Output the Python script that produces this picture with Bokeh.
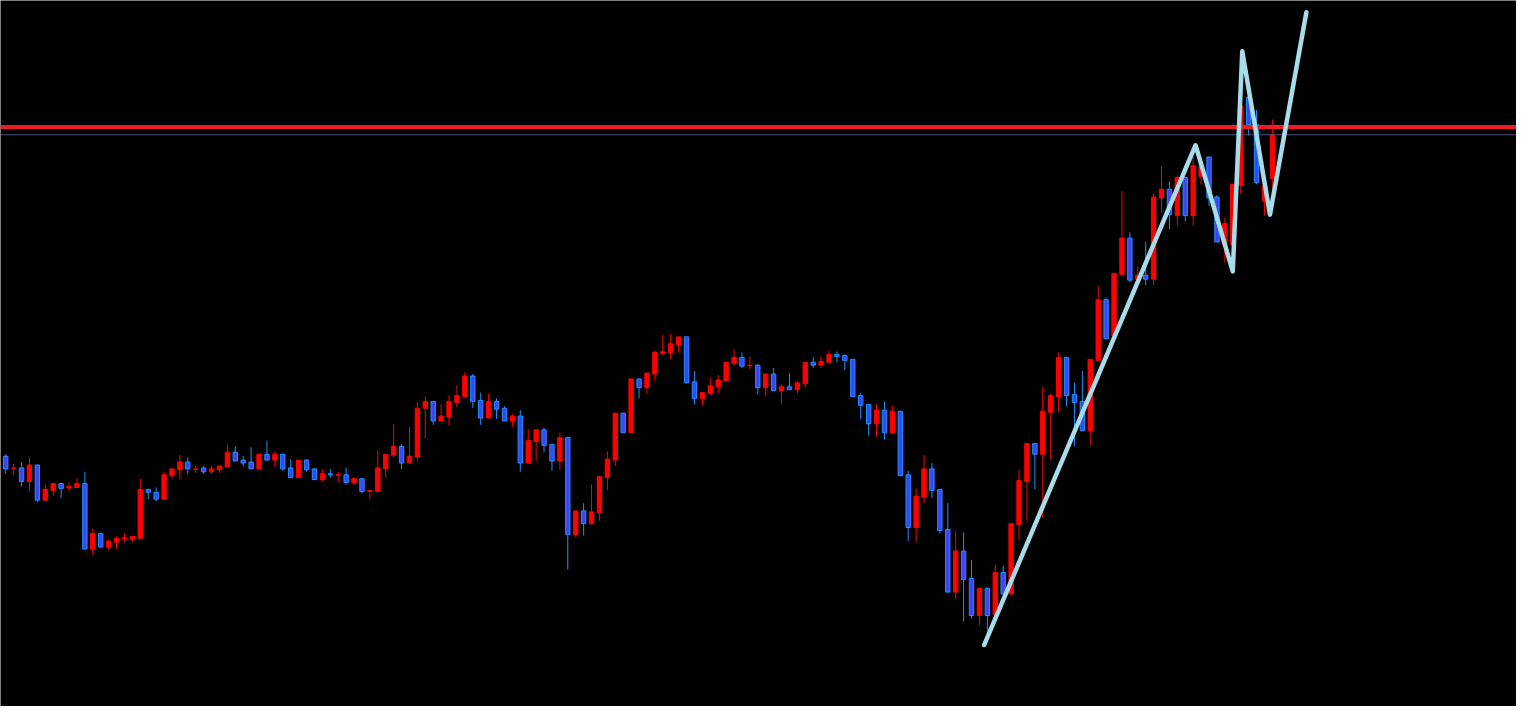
from bokeh.plotting import figure
from bokeh.models import ColumnDataSource, Span, Range1d
from bokeh.embed import file_html
from bokeh.resources import INLINE

# ---- data (price units) ----
opens = [334, 321.5, 322, 308, 325, 289, 299, 306, 301.5, 302,
         306, 239, 255, 241, 246, 249.5, 249, 250, 300, 297,
         290, 314, 320, 328, 320.5, 322, 318, 320, 323, 338,
         330, 328, 321, 336, 330, 336, 322, 312, 330, 321,
         310, 316, 314.5, 315, 307, 311, 298, 298, 321, 335,
         344, 327, 333, 383, 390, 370, 374, 389, 395, 416,
         391, 373, 390, 383, 370, 375, 327, 349, 361, 346,
         329, 353, 254, 278, 265, 276, 312, 330, 378, 358,
         413, 404, 418, 439, 440, 448, 456, 410, 393, 398,
         405, 411, 429, 435, 426.5, 427, 404, 418, 401, 405,
         402, 408, 430, 427, 430, 438, 437, 433, 396, 387,
         367, 381, 358, 380, 315, 261, 292, 321, 300, 259,
         195, 237, 209, 171, 199, 172, 215, 193, 264, 308,
         347, 336, 379, 395, 435, 397, 390, 360, 432, 494,
         457, 520, 557, 515, 519, 515, 598, 607, 580, 619,
         580, 620, 640, 599, 550, 550, 611, 701, 673, 595,
         618]
closes = [321, 322, 308, 325, 289, 300, 306, 301, 303, 306,
          239, 255, 241, 247, 250, 250.5, 252, 300, 297, 290,
          315, 321, 328, 321, 321, 318, 321, 324, 338, 329,
          327, 321, 336, 330, 336, 321, 312, 330, 320, 310,
          316, 315, 315, 307, 311, 298, 299, 322, 336, 344,
          327, 334, 383, 390, 370, 375, 390, 396, 416, 390,
          373, 390, 382, 370, 375, 327, 350, 361, 345, 329,
          353, 254, 278, 265, 277, 313, 331, 378, 358, 413,
          404, 419, 440, 441, 449, 456, 409, 393, 399, 406,
          412, 430, 435, 426, 427, 404, 418, 401, 405, 402,
          409, 430, 427, 431, 438, 436, 432, 395, 386, 367,
          381, 358, 380, 314, 261, 293, 321, 299, 258, 195,
          237, 208, 171, 199, 171, 215, 193, 265, 309, 347,
          336, 380, 396, 435, 396, 389, 360, 433, 494, 454,
          521, 557, 514, 519, 515, 599, 607, 581, 619, 580,
          631, 630, 598, 553, 572, 612, 692, 673, 614, 610,
          663]
highs = [336, 326, 328, 333, 325, 305, 307, 306, 307, 312,
         318, 260, 255, 249, 252, 255, 252, 311, 300, 302,
         318, 321, 335, 333, 324, 324, 324, 324, 346, 344,
         334, 343, 336, 350, 339, 336, 331, 330, 331, 321,
         321, 321, 318, 322, 311, 311, 299, 340, 336, 367,
         346, 364, 389, 395, 390, 387, 396, 407, 420, 418,
         399, 398, 393, 385, 377, 381, 362, 361, 363, 346,
         358, 353, 278, 286, 305, 314, 339, 378, 378, 413,
         413, 419, 442, 458, 459, 456, 456, 421, 399, 414,
         417, 430, 443, 440, 436, 428, 418, 424, 407, 419,
         411, 430, 435, 436, 442, 441, 438, 433, 399, 387,
         387, 390, 386, 380, 319, 301, 335, 327, 300, 286,
         257, 256, 228, 199, 199, 223, 222, 265, 320, 347,
         347, 405, 398, 440, 435, 409, 421, 433, 508, 496,
         521, 605, 563, 528, 553, 603, 631, 615, 621, 619,
         640, 640, 640, 601, 578, 612, 700, 703, 688, 618,
         678]
lows = [316, 315, 303, 298, 287, 289, 293, 291, 298, 301.5,
        239, 233, 241, 238, 239, 246, 246, 250, 290, 288,
        289, 311, 310, 316, 317, 316, 316, 317, 323, 329,
        324, 321, 320, 330, 323, 319, 312, 312, 318, 310,
        308, 312, 307, 305, 304, 296, 290, 298, 312, 333,
        321, 327, 330, 352, 366, 370, 365, 384, 393, 383,
        366, 373, 372, 370, 364, 318, 327, 329, 338, 319,
        320, 218, 251, 253, 264, 268, 299, 324, 358, 358,
        393, 398, 411, 437, 433, 440, 409, 387, 386, 396,
        398, 411, 426, 424, 423, 397, 395, 401, 387, 402,
        398, 404, 424, 424, 429, 430, 422, 395, 372, 355,
        354, 351, 357, 314, 247, 246, 286, 291, 255, 195,
        188, 165, 168, 161, 155, 172, 193, 193, 248, 268,
        300, 271, 330, 379, 385, 344, 360, 345, 432, 454,
        455, 518, 512, 513, 509, 509, 583, 566, 570, 574,
        570, 612, 590, 553, 532, 545, 602, 662, 612, 580,
        607]

# zigzag (wave) line: bar index, price
zz_x = [123.6, 150.3, 155.0, 156.2, 159.7, 164.3]
zz_y = [141, 652, 523, 748, 581, 788]

resistance_level = 670.7
bid_level = 662.7

# ---- build ----
n = len(opens)
idx = list(range(n))
up_i = [i for i in idx if closes[i] >= opens[i]]
dn_i = [i for i in idx if closes[i] < opens[i]]

up_src = ColumnDataSource(dict(
    x=up_i,
    top=[closes[i] for i in up_i], bottom=[opens[i] for i in up_i],
    high=[highs[i] for i in up_i], low=[lows[i] for i in up_i]))
dn_src = ColumnDataSource(dict(
    x=dn_i,
    top=[opens[i] for i in dn_i], bottom=[closes[i] for i in dn_i],
    high=[highs[i] for i in dn_i], low=[lows[i] for i in dn_i]))

p = figure(width=1516, height=706,
           x_range=Range1d(-0.66, 190.84), y_range=Range1d(78, 800),
           x_axis_type=None, y_axis_type=None,
           output_backend="svg", toolbar_location=None,
           background_fill_color="#000000", border_fill_color="#000000",
           min_border=0, outline_line_color=None)
p.grid.visible = False

RED = "#ff0000"
BLUE_FILL = "#3c46f8"
BLUE_LINE = "#1e90ff"

p.segment(x0="x", y0="high", x1="x", y1="low", source=up_src, line_color=RED, line_width=1)
p.segment(x0="x", y0="high", x1="x", y1="low", source=dn_src, line_color=BLUE_LINE, line_width=1)
p.vbar(x="x", top="top", bottom="bottom", width=0.55, source=up_src,
       fill_color=RED, line_color=RED, line_width=1)
p.vbar(x="x", top="top", bottom="bottom", width=0.55, source=dn_src,
       fill_color=BLUE_FILL, line_color=BLUE_LINE, line_width=1)

p.add_layout(Span(location=bid_level, dimension="width", line_color="#50507a", line_width=1))
p.add_layout(Span(location=resistance_level, dimension="width", line_color="#ee1c25", line_width=4))

zz = p.line(zz_x, zz_y, line_color="#a8dcea", line_width=4.5, line_join="round", line_cap="round")
zz.level = "overlay"

open("out.html", "w").write(file_html(p, INLINE))
